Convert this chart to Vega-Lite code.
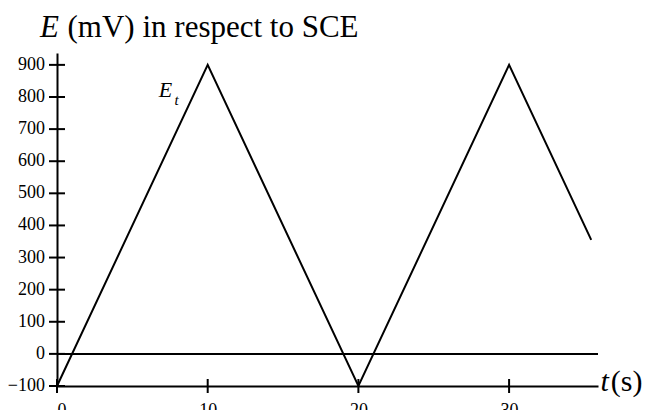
{
  "$schema": "https://vega.github.io/schema/vega-lite/v6.json",
  "width": 541,
  "height": 333,
  "autosize": "none",
  "padding": {"left": 57, "top": 53, "right": 50, "bottom": 24},
  "background": "white",
  "config": {
    "view": {"stroke": null},
    "font": "Liberation Serif",
    "axis": {"labelFontSize": 18, "labelColor": "black", "labelFont": "Liberation Serif", "ticks": false, "grid": false, "domainColor": "black", "domainWidth": 2}
  },
  "datasets": {
    "wave": [
      {"t": 0, "E": -100},
      {"t": 10, "E": 900},
      {"t": 20, "E": -100},
      {"t": 30, "E": 900},
      {"t": 35.45, "E": 355}
    ],
    "zero": [{"t": 0, "E": 0}, {"t": 35.9, "E": 0}],
    "yticks": [
      {"t": 0, "E": 100}, {"t": 0, "E": 200}, {"t": 0, "E": 300}, {"t": 0, "E": 400},
      {"t": 0, "E": 500}, {"t": 0, "E": 600}, {"t": 0, "E": 700}, {"t": 0, "E": 800},
      {"t": 0, "E": 900}, {"t": 0, "E": 0}, {"t": 0, "E": -100}
    ],
    "xticks": [{"t": 0, "E": -100}, {"t": 10, "E": -100}, {"t": 20, "E": -100}, {"t": 30, "E": -100}],
    "italic": [
      {"t": -1.13, "E": 988, "text": "E", "size": 31},
      {"t": 36.06, "E": -116, "text": "t", "size": 30},
      {"t": 6.75, "E": 800, "text": "E", "size": 22},
      {"t": 7.8, "E": 775, "text": "t", "size": 15}
    ],
    "normal": [
      {"t": 0.7, "E": 988, "text": "(mV) in respect to SCE", "size": 31},
      {"t": 36.75, "E": -116, "text": "(s)", "size": 30}
    ]
  },
  "layer": [
    {
      "data": {"name": "zero"},
      "mark": {"type": "line", "color": "black", "strokeWidth": 2},
      "encoding": {
        "x": {
          "field": "t", "type": "quantitative",
          "scale": {"domain": [0, 35.9], "nice": false, "zero": false},
          "axis": {"title": null, "values": [0, 10, 20, 30], "labelPadding": 15, "labelOverlap": false}
        },
        "y": {
          "field": "E", "type": "quantitative",
          "scale": {"domain": [-100, 937], "nice": false, "zero": false},
          "axis": {"title": null, "labels": false}
        }
      }
    },
    {
      "data": {"name": "wave"},
      "mark": {"type": "line", "color": "black", "strokeWidth": 2},
      "encoding": {
        "x": {"field": "t", "type": "quantitative"},
        "y": {"field": "E", "type": "quantitative"}
      }
    },
    {
      "data": {"name": "yticks"},
      "mark": {"type": "tick", "orient": "horizontal", "color": "black", "size": 16, "thickness": 2, "opacity": 1},
      "encoding": {
        "x": {"field": "t", "type": "quantitative"},
        "y": {"field": "E", "type": "quantitative"}
      }
    },
    {
      "data": {"name": "yticks"},
      "mark": {"type": "text", "align": "right", "baseline": "middle", "dx": -12, "fontSize": 18, "color": "black", "font": "Liberation Serif"},
      "encoding": {
        "x": {"field": "t", "type": "quantitative"},
        "y": {"field": "E", "type": "quantitative"},
        "text": {"field": "E", "type": "quantitative", "format": "d"}
      }
    },
    {
      "data": {"name": "xticks"},
      "mark": {"type": "tick", "orient": "vertical", "color": "black", "size": 14, "thickness": 2, "opacity": 1},
      "encoding": {
        "x": {"field": "t", "type": "quantitative"},
        "y": {"field": "E", "type": "quantitative"}
      }
    },
    {
      "data": {"name": "italic"},
      "mark": {"type": "text", "align": "left", "baseline": "alphabetic", "color": "black", "font": "Liberation Serif", "fontStyle": "italic"},
      "encoding": {
        "x": {"field": "t", "type": "quantitative"},
        "y": {"field": "E", "type": "quantitative"},
        "text": {"field": "text"},
        "size": {"field": "size", "type": "quantitative", "scale": null}
      }
    },
    {
      "data": {"name": "normal"},
      "mark": {"type": "text", "align": "left", "baseline": "alphabetic", "color": "black", "font": "Liberation Serif"},
      "encoding": {
        "x": {"field": "t", "type": "quantitative"},
        "y": {"field": "E", "type": "quantitative"},
        "text": {"field": "text"},
        "size": {"field": "size", "type": "quantitative", "scale": null}
      }
    }
  ]
}
